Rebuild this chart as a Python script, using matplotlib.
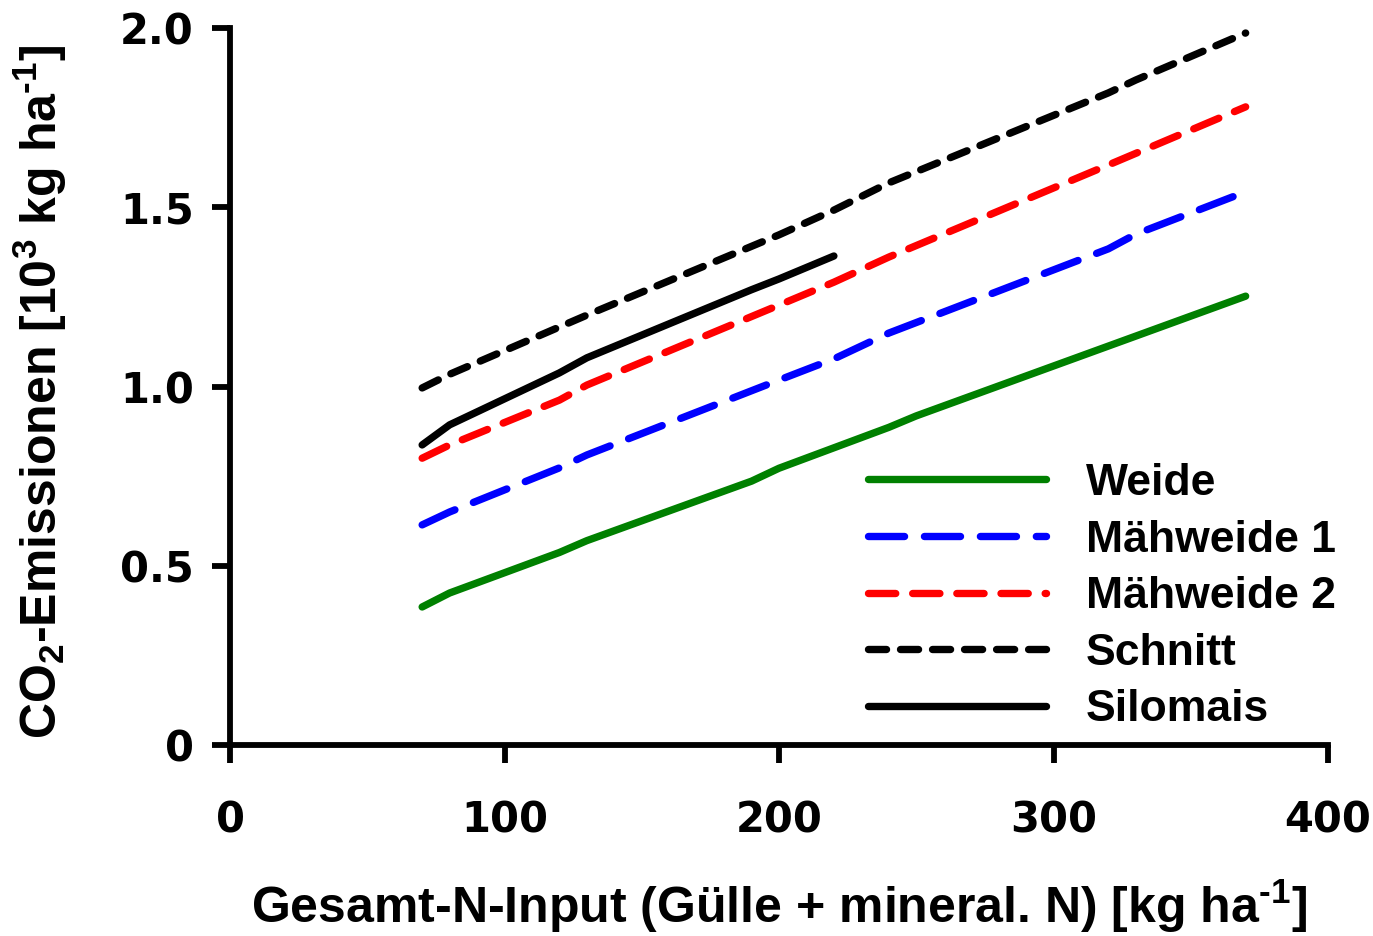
import matplotlib
matplotlib.use('Agg')
import matplotlib.pyplot as plt

plt.rcParams['mathtext.fontset'] = 'custom'
plt.rcParams['mathtext.rm'] = 'Liberation Sans:bold'
plt.rcParams['mathtext.it'] = 'Liberation Sans:bold'
plt.rcParams['mathtext.bf'] = 'Liberation Sans:bold'
plt.rcParams['mathtext.default'] = 'rm'

# Werte
x_weide = [70, 80, 120, 130, 190, 200, 240, 250, 370]
y_weide = [0.385, 0.424, 0.537, 0.570, 0.736, 0.772, 0.886, 0.918, 1.252]

x_mw1 = [70, 80, 120, 130, 200, 220, 240, 320, 330, 370]
y_mw1 = [0.614, 0.650, 0.773, 0.809, 1.018, 1.077, 1.149, 1.384, 1.425, 1.543]

x_mw2 = [70, 80, 120, 130, 200, 220, 240, 320, 370]
y_mw2 = [0.800, 0.837, 0.962, 1.004, 1.227, 1.291, 1.361, 1.618, 1.780]

x_schnitt = [70, 80, 120, 130, 200, 220, 240, 320, 330, 370]
y_schnitt = [0.996, 1.034, 1.166, 1.199, 1.423, 1.492, 1.568, 1.819, 1.855, 1.986]

x_silomais = [70, 80, 120, 130, 190, 200, 220]
y_silomais = [0.837, 0.893, 1.038, 1.080, 1.270, 1.300, 1.364]

xticks = [0, 100, 200, 300, 400]
yticks = [0, 0.5, 1.0, 1.5, 2.0]
yticklabels = ['0', '0.5', '1.0', '1.5', '2.0']

fig = plt.figure(figsize=(13.73, 9.36), dpi=100)
ax = fig.add_axes([230/1373, 1 - 745/936, 1098/1373, 717/936])

lw = 5.3
ax.plot(x_weide, y_weide, color='#008000', lw=lw, solid_capstyle='round', label='Weide')
ax.plot(x_mw1, y_mw1, color='#0000ff', lw=lw, ls=(0, (4.9, 2.7)), dash_capstyle='round', label='Mähweide 1')
ax.plot(x_mw2, y_mw2, color='#ff0000', lw=lw, ls=(0, (3.7, 2.3)), dash_capstyle='round', label='Mähweide 2')
ax.plot(x_schnitt, y_schnitt, color='black', lw=lw, ls=(0, (2.45, 1.9)), dash_capstyle='round', label='Schnitt')
ax.plot(x_silomais, y_silomais, color='black', lw=lw, solid_capstyle='round', label='Silomais')

ax.set_xlim(0, 400)
ax.set_ylim(0, 2.0)
ax.set_xticks(xticks)
ax.set_yticks(yticks)
ax.set_yticklabels(yticklabels)

for s in ['top', 'right']:
    ax.spines[s].set_visible(False)
for s in ['left', 'bottom']:
    ax.spines[s].set_linewidth(4.2)
ax.tick_params(direction='out', length=13, width=4.2)
ax.tick_params(axis='y', pad=13)
ax.tick_params(axis='x', pad=26)
for lab in ax.get_xticklabels() + ax.get_yticklabels():
    lab.set_fontfamily('DejaVu Sans')
    lab.set_fontweight('bold')
    lab.set_fontsize(30)

lbl_font = {'family': 'Liberation Sans', 'weight': 'bold', 'size': 36}
ax.set_xlabel('Gesamt-N-Input (Gülle + mineral. N) [kg ha$^{\u20101}$]', fontdict=lbl_font)
ax.set_ylabel('CO$_2$-Emissionen [10$^3$ kg ha$^{\u20101}$]', fontdict=lbl_font)
ax.xaxis.label.set_va('baseline')
ax.xaxis.set_label_coords(0.5, -0.248)
ax.yaxis.set_label_coords(-0.147, 0.492)

ax.legend(loc='upper left', bbox_to_anchor=(868/1373, 1 - 463/936), bbox_transform=fig.transFigure,
          frameon=False, handlelength=4.0, handletextpad=0.9, labelspacing=0.35,
          borderpad=0, borderaxespad=0,
          prop={'family': 'Liberation Sans', 'weight': 'bold', 'size': 32})

fig.savefig('out.png', dpi=100)
